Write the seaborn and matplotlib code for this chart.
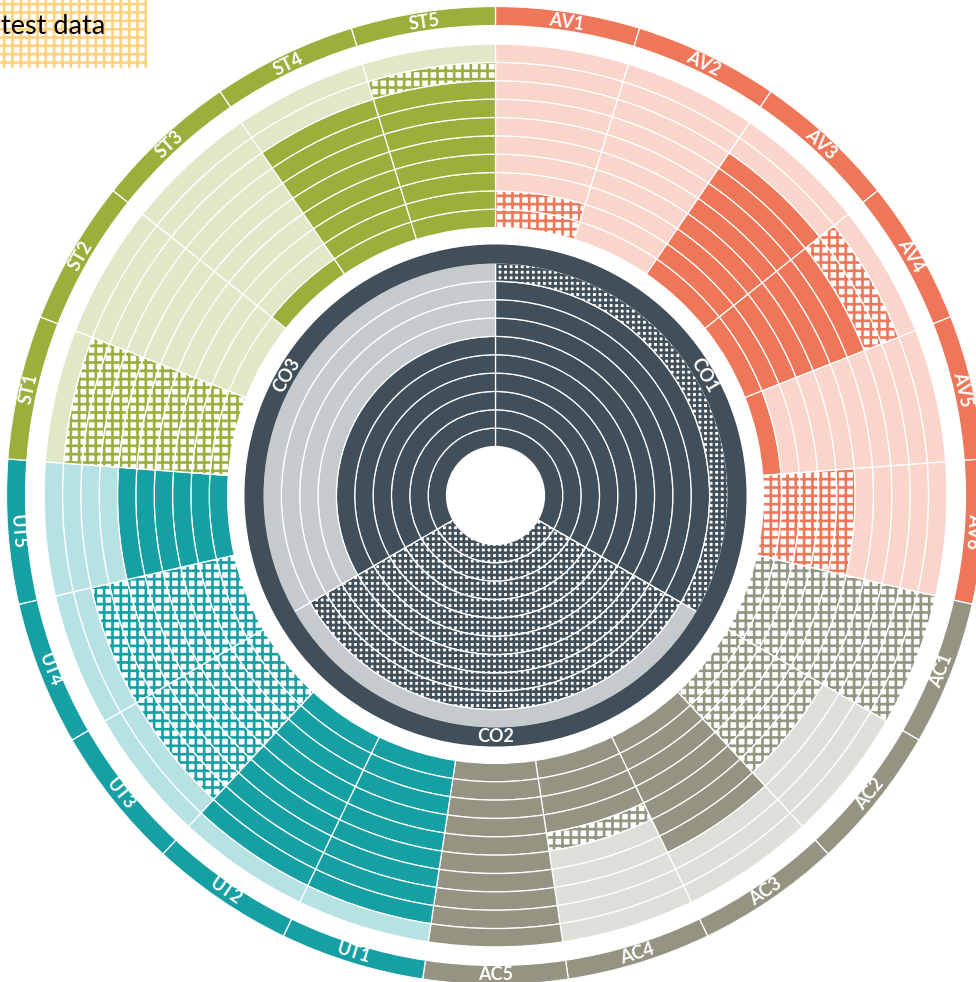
import numpy as np
import pandas as pd
import matplotlib
matplotlib.use("Agg")
import matplotlib.pyplot as plt
from matplotlib.patches import Rectangle
import seaborn as sns

# ---------------- data ----------------
segments = ["AV1", "AV2", "AV3", "AV4", "AV5", "AV6",
            "AC1", "AC2", "AC3", "AC4", "AC5",
            "UT1", "UT2", "UT3", "UT4", "UT5",
            "ST1", "ST2", "ST3", "ST4", "ST5"]
done = [0, 0, 8, 7, 1, 0,
        0, 0, 7, 4, 10,
        9, 9, 0, 0, 6,
        0, 0, 1, 8, 8]
progress = [2, 0, 0, 2, 0, 5,
            10, 6, 0, 1, 0,
            0, 0, 8, 8, 0,
            9, 0, 0, 0, 1]
core_segments = ["CO1", "CO2", "CO3"]
core_done = [9, 0, 6]
core_progress = [1, 9, 0]
levels = 10
title_text = "test data"

palette = {
    "AV": ("#EE7659", "#FAD5CB"),
    "AC": ("#959482", "#DFDFDA"),
    "UT": ("#16A0A3", "#B7E2E4"),
    "ST": ("#9CAE3B", "#E1E7C7"),
    "CO": ("#404F5A", "#C5CACD"),
}

# ---------------- style ----------------
sns.set_theme(style="white")
plt.rcParams["font.family"] = ["Lato", "DejaVu Sans"]
plt.rcParams["hatch.linewidth"] = 1.9


def build_cells(names, d, p):
    rows = []
    for i, (name, dn, pr) in enumerate(zip(names, d, p)):
        for k in range(levels):
            state = "done" if k < dn else ("progress" if k < dn + pr else "todo")
            rows.append(dict(segment=name, group=name[:2], idx=i, ring=k, state=state))
    return pd.DataFrame(rows)


outer = build_cells(segments, done, progress)
core = build_cells(core_segments, core_done, core_progress)

# ---------------- layout (in ring units) ----------------
PX = 18.35                 # pixels per ring unit
CX, CY = 495.5, 495.5      # centre in pixels (from top-left)
W_PX, H_PX = 976, 982
R_HOLE = 2.67
R_CO_BORDER = (12.64, 13.68)
R_OUT0 = 14.60
R_LABEL = (25.61, 26.65)
RMAX = 26.67

fig = plt.figure(figsize=(W_PX / 100, H_PX / 100), dpi=100)
rad_px = RMAX * PX
ax = fig.add_axes([(CX - rad_px) / W_PX, (H_PX - CY - rad_px) / H_PX,
                   2 * rad_px / W_PX, 2 * rad_px / H_PX], projection="polar")
ax.set_theta_zero_location("N")
ax.set_theta_direction(-1)
ax.set_ylim(0, RMAX)
ax.set_axis_off()


def draw_cells(df, n_seg, r0, hatch):
    w = 2 * np.pi / n_seg
    for _, c in df.iterrows():
        th = (c.idx + 0.5) * w
        dark, light = palette[c.group]
        b = r0 + c.ring
        if c.state == "progress":
            ax.bar(th, 1, width=w, bottom=b, color="white", edgecolor=dark,
                   hatch=hatch, linewidth=0)
            ax.bar(th, 1, width=w, bottom=b, facecolor="none",
                   edgecolor="white", linewidth=1.0)
        else:
            ax.bar(th, 1, width=w, bottom=b,
                   color=dark if c.state == "done" else light,
                   edgecolor="white", linewidth=0.9)


draw_cells(core, len(core_segments), R_HOLE, "+++")
draw_cells(outer, len(segments), R_OUT0, "++")

# core border ring
ax.bar(0, R_CO_BORDER[1] - R_CO_BORDER[0], width=2 * np.pi, bottom=R_CO_BORDER[0],
       color=palette["CO"][0], linewidth=0)


def label_rotation(deg):
    if 100 < deg < 270:
        return 180 - deg
    return -deg


for i, name in enumerate(core_segments):
    deg = (i + 0.5) * 360 / len(core_segments)
    ax.text(np.deg2rad(deg), np.mean(R_CO_BORDER) - 0.03, name,
            rotation=label_rotation(deg),
            rotation_mode="anchor", ha="center", va="center", color="white",
            fontsize=13, fontweight="bold")

# outer label ring
w = 2 * np.pi / len(segments)
for i, name in enumerate(segments):
    th = (i + 0.5) * w
    ax.bar(th, R_LABEL[1] - R_LABEL[0], width=w, bottom=R_LABEL[0],
           color=palette[name[:2]][0], edgecolor="white", linewidth=0.9)
    deg = np.rad2deg(th)
    ax.text(th, np.mean(R_LABEL) - 0.03, name, rotation=label_rotation(deg),
            rotation_mode="anchor", ha="center", va="center", color="white",
            fontsize=13, fontweight="bold")

# "test data" box
fig.patches.append(Rectangle((0, 1 - 68 / H_PX), 147 / W_PX, 68 / H_PX,
                             transform=fig.transFigure, facecolor="white",
                             edgecolor="#FFD27F", hatch="++", linewidth=0))
fig.text(1 / W_PX, 1 - 27 / H_PX, title_text, ha="left", va="center",
         fontsize=19.5, color="black")

fig.savefig("out.png", dpi=100)
